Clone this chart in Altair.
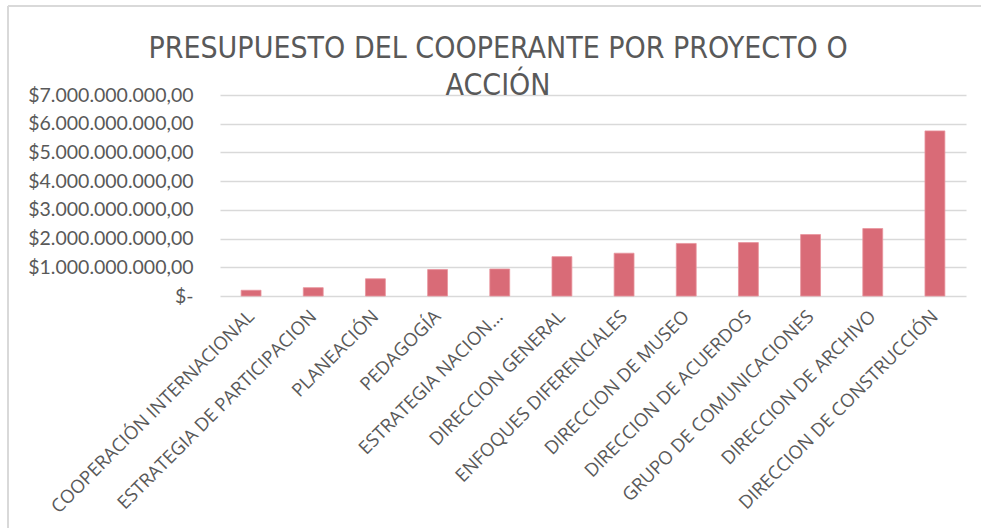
import altair as alt
import pandas as pd

categories = [
    "COOPERACIÓN INTERNACIONAL",
    "ESTRATEGIA DE PARTICIPACION",
    "PLANEACIÓN",
    "PEDAGOGÍA",
    "ESTRATEGIA NACION...",
    "DIRECCION GENERAL",
    "ENFOQUES DIFERENCIALES",
    "DIRECCION DE MUSEO",
    "DIRECCION DE ACUERDOS",
    "GRUPO DE COMUNICACIONES",
    "DIRECCION DE ARCHIVO",
    "DIRECCION DE CONSTRUCCIÓN",
]
values = [
    200000000, 290000000, 600000000, 920000000, 940000000, 1370000000,
    1490000000, 1830000000, 1860000000, 2140000000, 2350000000, 5750000000,
]
y_ticks = [0, 1e9, 2e9, 3e9, 4e9, 5e9, 6e9, 7e9]
title_text = "PRESUPUESTO DEL COOPERANTE POR PROYECTO O\nACCIÓN"

df = pd.DataFrame({"cat": categories, "val": values})

nb = "\u00a0" * 4
label_expr = (
    "datum.value == 0 ? '$-" + nb + "' : '$' + replace(replace(replace(format(datum.value, ',.2f'), /,/g, '#'), /\\./g, ','), /#/g, '.')"
)

bars = alt.Chart(df).mark_bar(color="#D96B77", stroke="#E8949D", strokeWidth=0.8).encode(
    x=alt.X("cat:N", sort=None, title=None,
            scale=alt.Scale(paddingInner=0.68, paddingOuter=0.34),
            axis=alt.Axis(labelAngle=-45, labelAlign="right", labelBaseline="middle",
                          labelFont="Open Sans", labelFontSize=18.5, labelColor="#595959",
                          labelPadding=17, ticks=False, domain=False, labelLimit=400,
                          labelOverlap=False)),
    y=alt.Y("val:Q", title=None,
            scale=alt.Scale(domain=[0, 7e9], nice=False),
            axis=alt.Axis(values=y_ticks, labelExpr=label_expr, labelFont="Lato",
                          labelFontSize=19.5, labelColor="#595959", labelPadding=27,
                          ticks=False, domain=False, gridColor="#D9D9D9", gridWidth=1.5)),
)

one = pd.DataFrame({"a": [0]})
border = alt.Chart(one).mark_rule(color="#D9D9D9", strokeWidth=2).encode(
    x=alt.value(-212), x2=alt.value(800), y=alt.value(-89)
)
border_left = alt.Chart(one).mark_rule(color="#D9D9D9", strokeWidth=2).encode(
    x=alt.value(-212), y=alt.value(-89), y2=alt.value(500)
)
title = alt.Chart(one).mark_text(
    text=title_text, lineBreak="\n", font="DejaVu Sans Condensed, Roboto, sans-serif",
    fontSize=30, color="#595959", align="center", baseline="alphabetic", lineHeight=37,
).encode(x=alt.value(278), y=alt.value(-37))

chart = alt.layer(border, border_left, title, bars).properties(
    width=746,
    height=201,
    background="white",
    autosize=alt.AutoSizeParams(type="none"),
    padding={"left": 220, "top": 95, "right": 15, "bottom": 232},
).configure_view(strokeWidth=0, stroke="transparent")

chart.save("out.html", embed_options={"renderer": "svg", "actions": False})
